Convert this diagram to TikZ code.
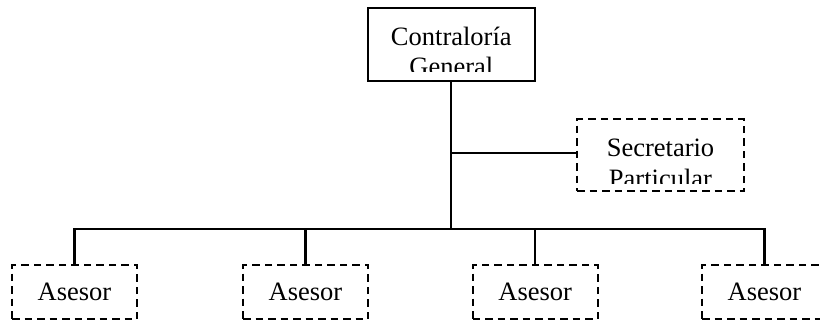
\documentclass[tikz,border=0pt]{standalone}
\usepackage{fontspec}
\setmainfont{Liberation Serif}
\begin{document}
\begin{tikzpicture}[x=1pt,y=-1pt,
  solidbox/.style={draw,line width=2.2pt,minimum width=167pt,minimum height=73pt,inner sep=0pt},
  dashbox/.style={draw,line width=1.8pt,dash pattern=on 7.5pt off 5pt,inner sep=0pt},
  secbox/.style={dashbox,minimum width=167pt,minimum height=72pt},
  asebox/.style={dashbox,minimum width=125pt,minimum height=54pt},
  link/.style={line width=2.2pt},
  label/.style={font=\fontsize{26.5}{30}\selectfont,anchor=base,inner sep=0pt}]
\useasboundingbox (0,0) rectangle (820,321);

% boxes
\node[solidbox] (cg) at (451.3,44.5) {};
\node[secbox] (sec) at (660.5,155) {};
\node[asebox] (a1) at (74.5,292) {};
\node[asebox] (a2) at (305.5,292) {};
\node[asebox] (a3) at (535.2,292) {};
\node[asebox] (a4) at (764.5,292) {};

% box texts (second lines cut off by the text area)
\begin{scope}
  \clip (cg.north west) rectangle (cg.east |- 0,72);
  \node[label] (cgt1) at (451.3,46) {Contraloría};
  \node[label] (cgt2) at (451.3,76) {General};
\end{scope}
\begin{scope}
  \clip (sec.north west) rectangle (sec.east |- 0,183);
  \node[label] (sect1) at (660.5,157) {Secretario};
  \node[label] (sect2) at (660.5,187) {Particular};
\end{scope}
\foreach \n in {a1,a2,a3,a4}
  \node[label] at ([yshift=-8.5pt]\n.center) {Asesor};

% connectors
\coordinate (bus) at (0,229);
\draw[link] (cg.south) -- (cg.south |- bus);
\draw[link] (cg.south |- 0,153) -- (sec.west |- 0,153);
\draw[link] (a1.north) |- (a4.north |- bus) -- (a4.north);
\draw[link] (a2.north) -- (a2.north |- bus);
\draw[link] (a3.north) -- (a3.north |- bus);
\end{tikzpicture}
\end{document}
